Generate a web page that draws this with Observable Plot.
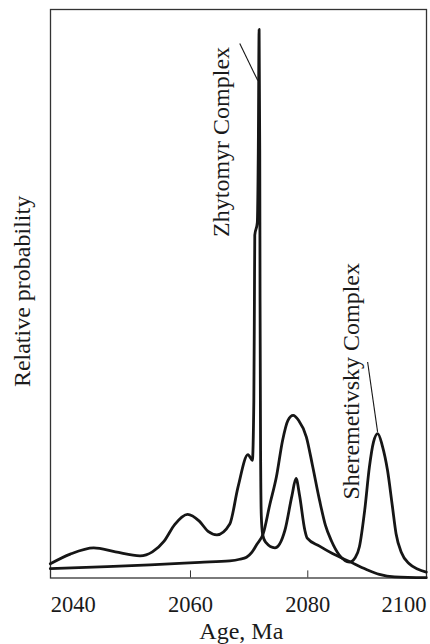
<!DOCTYPE html>
<html>
<head>
<meta charset="utf-8">
<script src="https://cdn.jsdelivr.net/npm/d3@7"></script>
<script src="https://cdn.jsdelivr.net/npm/@observablehq/plot@0.6"></script>
<style>
  html, body { margin: 0; padding: 0; background: #fff; }
</style>
</head>
<body>
<div id="chart"></div>
<script>
// Zhytomyr Complex probability curve (age, relative probability)
const zhytomyrAge = [2036.1, 2039.5, 2043.5, 2047.2, 2051.4, 2053.5, 2055.5, 2057.3, 2059.5, 2061.5, 2063.0, 2064.5, 2066.7, 2068.1, 2069.8, 2070.55, 2070.8, 2070.9, 2070.96, 2071.39, 2071.56, 2071.7, 2071.81, 2071.86, 2071.95, 2072.07, 2072.3, 2072.8, 2074.4, 2076.1, 2077.3, 2078.0, 2078.6, 2079.5, 2079.9, 2082.0, 2084.2, 2087.1, 2090.0, 2092.2, 2094.8, 2100.2];
const zhytomyrVal = [2.5, 4.2, 5.3, 4.6, 3.9, 4.6, 6.5, 9.4, 11.2, 10.0, 8.2, 7.6, 9.5, 16.0, 21.7, 20.7, 31.2, 48.8, 60.3, 62.5, 75.2, 96.5, 75.2, 48.8, 22.4, 11.0, 7.7, 6.3, 5.3, 8.4, 14.5, 17.5, 14.5, 8.4, 7.0, 5.6, 4.3, 2.9, 1.5, 0.65, 0.2, 0.05];

// Sheremetivsky Complex probability curve
const sheremAge = [2036.1, 2044.6, 2053.1, 2061.6, 2066.7, 2068.4, 2069.55, 2070.45, 2071.3, 2072.4, 2073.5, 2074.65, 2075.7, 2076.6, 2077.5, 2078.45, 2079.76, 2080.8, 2082.0, 2083.0, 2084.0, 2085.4, 2087.1, 2088.1, 2088.8, 2089.7, 2090.5, 2091.2, 2091.93, 2092.7, 2093.6, 2094.4, 2095.05, 2095.96, 2097.3, 2098.7, 2100.2];
const sheremVal = [1.65, 1.97, 2.32, 2.76, 3.02, 3.3, 3.65, 4.5, 5.9, 7.8, 12.8, 17.8, 24.2, 27.7, 28.6, 27.7, 24.8, 19.8, 13.7, 9.3, 6.6, 4.0, 2.8, 3.6, 5.5, 11.9, 19.5, 23.9, 25.4, 23.3, 18.9, 12.8, 7.8, 4.5, 2.5, 1.6, 1.05];

// Axis ticks
const tickLabels = [2040, 2060, 2080];
const lastTick = [2100];
const innerTicks = [2060, 2080];

// Annotations
const labelNames = ["Zhytomyr Complex", "Sheremetivsky Complex"];
const labelAge = [2065.25, 2087.5];
const labelVal = [76.7, 34.6];
const leaderAge1 = [2068.4, 2090.2];
const leaderVal1 = [94.0, 38.0];
const leaderAge2 = [2071.47, 2091.9];
const leaderVal2 = [87.5, 25.7];

const zData = zhytomyrAge.map((a, i) => ({age: a, p: zhytomyrVal[i]}));
const sData = sheremAge.map((a, i) => ({age: a, p: sheremVal[i]}));
const labels = labelNames.map((n, i) => ({name: n, age: labelAge[i], p: labelVal[i]}));
const leaders = labelNames.map((n, i) => ({x1: leaderAge1[i], y1: leaderVal1[i], x2: leaderAge2[i], y2: leaderVal2[i]}));

const font = "'Liberation Serif', 'Times New Roman', serif";

const chart = Plot.plot({
  width: 430,
  height: 644,
  marginLeft: 50,
  marginRight: 4,
  marginTop: 9,
  marginBottom: 66.5,
  style: {fontFamily: font, background: "#fff", color: "#1a1a1a"},
  x: {domain: [2036.13, 2100.24], axis: null},
  y: {domain: [0, 100], axis: null},
  marks: [
    Plot.frame({stroke: "#333", strokeWidth: 1.3}),
    Plot.ruleX(innerTicks, {y1: 0, y2: 1.25, stroke: "#333", strokeWidth: 1}),
    Plot.line(sData, {x: "age", y: "p", stroke: "#161616", strokeWidth: 2.8, curve: "monotone-x"}),
    Plot.line(zData, {x: "age", y: "p", stroke: "#161616", strokeWidth: 2.8, curve: "monotone-x"}),
    Plot.link(leaders, {x1: "x1", y1: "y1", x2: "x2", y2: "y2", stroke: "#161616", strokeWidth: 1.1}),
    Plot.text(labels, {x: "age", y: "p", text: "name", rotate: -90, fontSize: 24, fontFamily: font, fill: "#1a1a1a"}),
    Plot.text(tickLabels, {x: d => d, frameAnchor: "bottom", lineAnchor: "bottom", textAnchor: "middle", dy: 33.5, fontSize: 22.5, fontFamily: font, text: d => String(d), fill: "#1a1a1a"}),
    Plot.text(lastTick, {x: d => d, frameAnchor: "bottom", lineAnchor: "bottom", textAnchor: "middle", dy: 33.5, dx: -21, fontSize: 22.5, fontFamily: font, text: d => String(d), fill: "#1a1a1a"}),
    Plot.text(["Age, Ma"], {frameAnchor: "bottom", lineAnchor: "bottom", textAnchor: "middle", dy: 60.8, dx: 2.8, fontSize: 24, fontFamily: font, text: d => d, fill: "#1a1a1a"}),
    Plot.text(["Relative probability"], {y: [50.4], frameAnchor: "left", textAnchor: "middle", lineAnchor: "middle", dx: -28.6, rotate: -90, fontSize: 24, fontFamily: font, text: d => d, fill: "#1a1a1a"})
  ]
});
document.getElementById("chart").appendChild(chart);
</script>
</body>
</html>
